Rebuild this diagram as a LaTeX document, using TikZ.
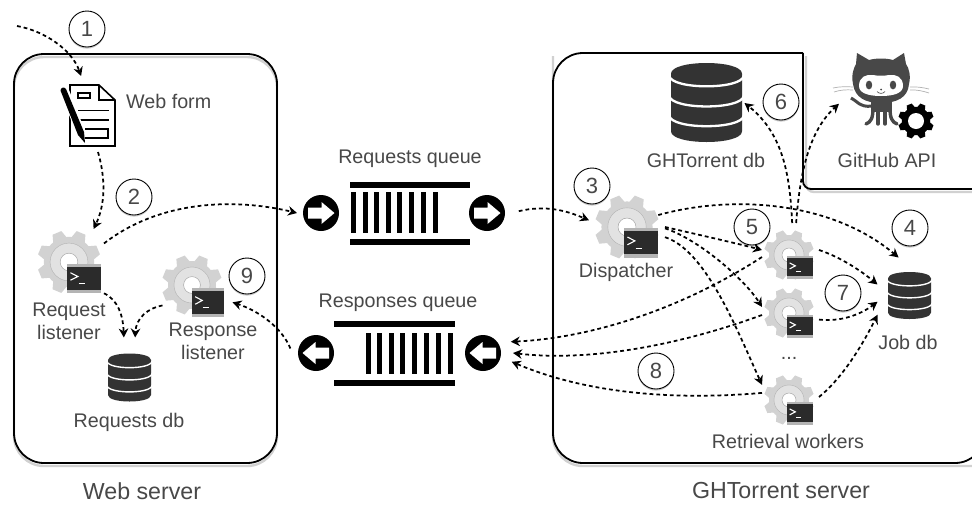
\documentclass[tikz,border=0pt]{standalone}
\usepackage{fontspec}
\setmainfont{Liberation Sans}
\usetikzlibrary{arrows.meta,shadows}
\definecolor{ink}{HTML}{484848}
\definecolor{dbdark}{HTML}{333333}
\definecolor{gearout}{HTML}{D2D2D2}
\definecolor{gearin}{HTML}{E2E2E2}
\definecolor{termdark}{HTML}{2B2B2B}
\definecolor{termedge}{HTML}{B4B4B4}
\tikzset{
  lbl/.style={text=ink,inner sep=0pt,align=center,font=\fontsize{19.7}{23}\selectfont},
  biglbl/.style={text=ink,inner sep=0pt,font=\fontsize{23.2}{26}\selectfont},
  num/.style={circle,draw=black,line width=0.9pt,fill=white,minimum size=36pt,inner sep=0pt,text=ink,font=\fontsize{22}{26}\selectfont,drop shadow={opacity=.22,shadow xshift=0pt,shadow yshift=-1.6pt,fill=black}},
  flow/.style={line width=1.75pt,dash pattern=on 3.8pt off 3pt,-{Stealth[length=9pt,width=9.5pt]}},
  hitbox/.style 2 args={rectangle,minimum width=#1pt,minimum height=#2pt,inner sep=0pt,outer sep=0pt},
  qball/.style 2 args={circle,fill=black,minimum size=36pt,inner sep=0pt,outer sep=#1pt},
  boxline/.style={draw=black,line width=1.8pt},
  boxshadow/.style={draw=black!18,line width=2.4pt},
}
\newcommand{\gearshape}[4]{% x y r colour
  \begin{scope}[shift={(#1,#2)},x=#3pt,y=#3pt]
    \foreach \a in {0,45,...,315}
      \fill[#4,rotate=\a+22.5] (-.24,.72) -- (-.15,1) -- (.15,1) -- (.24,.72) -- cycle;
    \fill[#4] (0,0) circle[radius=.8];
  \end{scope}}
\newcommand{\geartool}[3]{% x y r
  \gearshape{#1}{#2}{#3}{gearout}
  \begin{scope}[shift={(#1,#2)},x=#3pt,y=#3pt]
    \fill[gearin] (0,0) circle[radius=.6];
    \draw[gearout!85!black,line width=.4pt] (0,0) circle[radius=.6];
    \fill[white] (0,0) circle[radius=.28];
    \draw[gray!70,line width=.5pt] (0,0) circle[radius=.28];
  \end{scope}}
\newcommand{\termbox}[4]{% x1 y1 x2 y2
  \fill[termedge] (#1,#2) rectangle (#3,#4);
  \begin{scope}[shift={(#1,#2)},x={(#3pt-#1pt,0pt)},y={(0pt,#2pt-#4pt)}]
    \fill[termdark] (0,.1) rectangle (1,.88);
    \draw[white,line width=1.1pt] (.1,.3) -- (.32,.43) -- (.1,.56);
    \draw[white,line width=1.1pt] (.34,.68) -- (.52,.68);
  \end{scope}}
\newcommand{\dbicon}[4]{% cx top halfw h
  \begin{scope}[shift={(#1,#2)},x=#3pt,y=-#4pt]
    \fill[dbdark] (-1,.135) .. controls (-1,-.045) and (1,-.045) .. (1,.135) -- (1,.865) .. controls (1,1.045) and (-1,1.045) .. (-1,.865) -- cycle;
    \foreach \yy in {.16,.415,.665}
      \draw[white,line width=#3*.065pt] (-1.05,\yy) .. controls (-1,\yy+.18) and (1,\yy+.18) .. (1.05,\yy);
  \end{scope}}
\begin{document}
\begin{tikzpicture}[x=1pt,y=-1pt]
\path[use as bounding box,clip] (0,0) rectangle (972,504);
\fill[white] (0,0) rectangle (972,504);

% server boxes
\draw[boxshadow,rounded corners=30pt] (14,57) rectangle (277,466);
\draw[boxline,rounded corners=30pt] (14,54) rectangle (277,463);
\draw[boxshadow,rounded corners=30pt] (553,56) -- (553,466) -- (985,466);
\draw[boxshadow,rounded corners=8pt] (806,56) -- (806,192) -- (985,192);
\draw[boxline,rounded corners=30pt] (803,53) -- (553,53) -- (553,463) -- (985,463) -- (985,300);
\draw[boxline,rounded corners=8pt] (803,53) -- (803,189) -- (985,189);

% web form icon
\draw[black,line width=1.6pt,fill=white,line join=miter] (70,85) -- (99,85) -- (115,100) -- (115,146) -- (70,146) -- cycle;
\draw[black,line width=1.3pt] (99,85) -- (99,100) -- (115,100);
\draw[black,line width=1.2pt] (78,93) rectangle (90,98);
\draw[black,line width=1.2pt] (78,110.5) -- (109,110.5);
\draw[black,line width=1.2pt] (80,120) -- (109,120);
\draw[black,line width=1.2pt] (85,129) -- (108,129) -- (108,138) -- (85,138);
\draw[white,line width=9pt] (65,92) -- (81,133);
\fill[black] (60.5,90.5) .. controls (60.5,87.5) and (64.5,86.5) .. (66,89) -- (84,132) -- (85,143) -- (78,135) -- cycle;

% gear icons
\geartool{627}{227}{32}\termbox{624}{228}{658}{258}
\geartool{69}{262}{31.5}\termbox{67}{264}{101}{293}
\geartool{192}{285}{30}\termbox{192}{288}{224}{317}
\geartool{789}{255}{25}\termbox{787}{256}{813}{279}
\geartool{789}{313}{25}\termbox{787}{315}{813}{338}
\geartool{789}{400}{25}\termbox{787}{402}{813}{425}

% database icons
\dbicon{706.5}{63}{35.5}{79}
\dbicon{909.5}{272}{21.5}{47}
\dbicon{129.5}{353.5}{21.5}{48}

% octocat and gear
\begin{scope}
  \fill[ink] (853,84) .. controls (851,74) and (854,68) .. (856,64) -- (857,53) -- (869,60) .. controls (876,58) and (886,58) .. (893,60) -- (904,53) -- (906,64) .. controls (909,68) and (911,76) .. (909,84) .. controls (908,98) and (896,103) .. (881,103) .. controls (866,103) and (855,98) .. (853,84) -- cycle;
  \fill[white] (859,86) .. controls (859,77) and (866,74) .. (873,75) .. controls (878,76) and (884,76) .. (889,75) .. controls (896,74) and (903,77) .. (903,86) .. controls (903,93) and (894,96) .. (881,96) .. controls (868,96) and (859,93) .. (859,86) -- cycle;
  \fill[ink] (869,85) ellipse[x radius=3.2,y radius=4.4];
  \fill[ink] (893,85) ellipse[x radius=3.2,y radius=4.4];
  \fill[ink] (881,89.5) circle[radius=1];
  \draw[ink,line width=.6pt] (877,91.5) .. controls (879,94) and (883,94) .. (885,91.5);
  \fill[ink] (871,100) rectangle (892,112);
  \draw[ink,line width=3.4pt,line cap=round] (873,108) .. controls (873,118) and (871,122) .. (866,124);
  \draw[ink,line width=3.4pt,line cap=round] (878,108) -- (878,124);
  \draw[ink,line width=3.4pt,line cap=round] (885,108) -- (885,124);
  \draw[ink,line width=3.4pt,line cap=round] (890,108) .. controls (890,118) and (892,122) .. (897,124);
  \draw[ink,line width=3pt] (851,98) .. controls (856,100) and (860,108) .. (872,106);
  \draw[gray!60,line width=.7pt] (833,88) .. controls (840,86.5) and (846,86.5) .. (853,87);
  \draw[gray!60,line width=.7pt] (834,92) .. controls (840,90) and (846,89.5) .. (853,90);
  \draw[gray!60,line width=.7pt] (910,87) .. controls (916,86.5) and (923,87.5) .. (929,89);
  \draw[gray!60,line width=.7pt] (910,90) .. controls (916,89.5) and (923,91) .. (929,93);
\end{scope}
\gearshape{916}{121}{17.8}{black}
\fill[white] (916,121) circle[radius=8];

% queues
\fill[black] (350,182) rectangle (470,188);
\fill[black] (350,239) rectangle (470,245);
\foreach \bx in {351,363,374,386,397,409,421,433}
  \fill[black] (\bx,192) rectangle (\bx+5.3,233);
\fill[black] (334,321) rectangle (455,327);
\fill[black] (334,380) rectangle (455,386);
\foreach \bx in {366,377,389,400,412,424,436,448}
  \fill[black] (\bx,333) rectangle (\bx+5.3,374);

\node[qball={6}{0}] (qr1) at (321,213) {};
\node[qball={6}{0}] (qr2) at (487,213) {};
\node[qball={8}{0}] (qs1) at (316,353) {};
\node[qball={12}{0}] (qs2) at (483,353) {};
\foreach \cx/\cy/\sx in {321/213/1,487/213/1,316/353/-1,483/353/-1}
  \fill[white,shift={(\cx,\cy)},xscale=\sx] (-13,-5.5) -- (0.5,-5.5) -- (0.5,-11) -- (13.5,0) -- (0.5,11) -- (0.5,5.5) -- (-13,5.5) -- cycle;

% hit areas for connectors
\coordinate (entry) at (17,26);
\node[hitbox={56}{76}] (form) at (92,114) {};
\node[hitbox={66}{67}] (reqL) at (71,262.5) {};
\node[hitbox={70}{62}] (resL) at (197.5,286) {};
\node[hitbox={44}{80}] (rqdb) at (129.5,377.5) {};
\node[hitbox={76}{68}] (disp) at (627,227) {};
\node[hitbox={57}{64}] (w1) at (790.5,255) {};
\node[hitbox={57}{64}] (w2) at (790.5,313) {};
\node[hitbox={57}{64}] (w3) at (790.5,400) {};
\node[hitbox={64}{76}] (jobdb) at (909.5,295.5) {};
\node[hitbox={76}{80}] (ghdb) at (706.5,103) {};
\node[hitbox={90}{80}] (gh) at (884,90) {};

% connectors
\draw[flow] (entry) .. controls (45,31) and (72,50) .. (form.106);
\draw[flow] (form.-81) .. controls (106,180) and (105,205) .. (reqL.56.7);
\draw[flow] (reqL.30.5) .. controls (160,200) and (235,198) .. (qr1.180);
\draw[flow,shorten <=8pt] (qr2.0) .. controls (545,205) and (565,210) .. (disp.170);
\draw[flow,shorten <=-7pt] (disp.20) .. controls (730,195) and (830,200) .. (jobdb.106.8);
\draw[flow] (disp.0) .. controls (700,235) and (735,243) .. (w1.170);
\draw[flow] (disp.-2) .. controls (700,240) and (745,280) .. (w2.168);
\draw[flow] (disp.-15) .. controls (705,250) and (735,325) .. (w3.152);
\draw[flow] (w1.10) .. controls (840,257) and (860,270) .. (jobdb.161.8);
\draw[flow] (w2.-13.8) .. controls (840,322) and (860,315) .. (jobdb.191.5);
\draw[flow] (w3.6) .. controls (840,380) and (860,350) .. (jobdb.211.4);
\draw[flow] (w1.87) .. controls (790,180) and (785,135) .. (ghdb.0);
\draw[flow] (w1.80) .. controls (800,170) and (810,130) .. (gh.197.3);
\draw[flow] (w1.184) .. controls (680,310) and (590,338) .. (qs2.22.5);
\draw[flow] (w2.184) .. controls (680,345) and (590,362) .. (qs2.0);
\draw[flow] (w3.166) .. controls (680,400) and (590,395) .. (qs2.-17);
\draw[flow] (qs1.170) .. controls (283,330) and (262,312) .. (resL.-25.9);
\draw[flow] (reqL.-43.7) .. controls (118,300) and (123,315) .. (rqdb.98);
\draw[flow] (resL.209.7) .. controls (148,308) and (136,318) .. (rqdb.82);

% numbers
\node[num] (n1) at (87,29) {1};
\node[num] (n2) at (134,197) {2};
\node[num] (n3) at (592,186) {3};
\node[num] (n4) at (910,228) {4};
\node[num] (n5) at (752,227) {5};
\node[num] (n6) at (781,102) {6};
\node[num] (n7) at (843,293) {7};
\node[num] (n8) at (656,371) {8};
\node[num] (n9) at (247,276) {9};

% labels
\node[lbl,anchor=west] (lform) at (126,101) {Web form};
\node[lbl] (lrq) at (410,159) {Requests queue};
\node[lbl] (lrs) at (398,303) {Responses queue};
\node[lbl] (lghdb) at (706,160) {GHTorrent db};
\node[lbl] (lgh) at (887,160) {GitHub API};
\node[lbl] (ldisp) at (626,272) {Dispatcher};
\node[lbl] (ljob) at (908,342) {Job db};
\node[lbl] (lret) at (788,441) {Retrieval workers};
\node[lbl] (ldots) at (789,358) {...};
\node[lbl] (lreq) at (69,321) {Request\\listener};
\node[lbl] (lres) at (213,341) {Response\\listener};
\node[lbl] (lrqdb) at (129,422) {Requests db};
\node[biglbl] (lweb) at (142,491) {Web server};
\node[biglbl] (lghs) at (781,491) {GHTorrent server};
\end{tikzpicture}
\end{document}
